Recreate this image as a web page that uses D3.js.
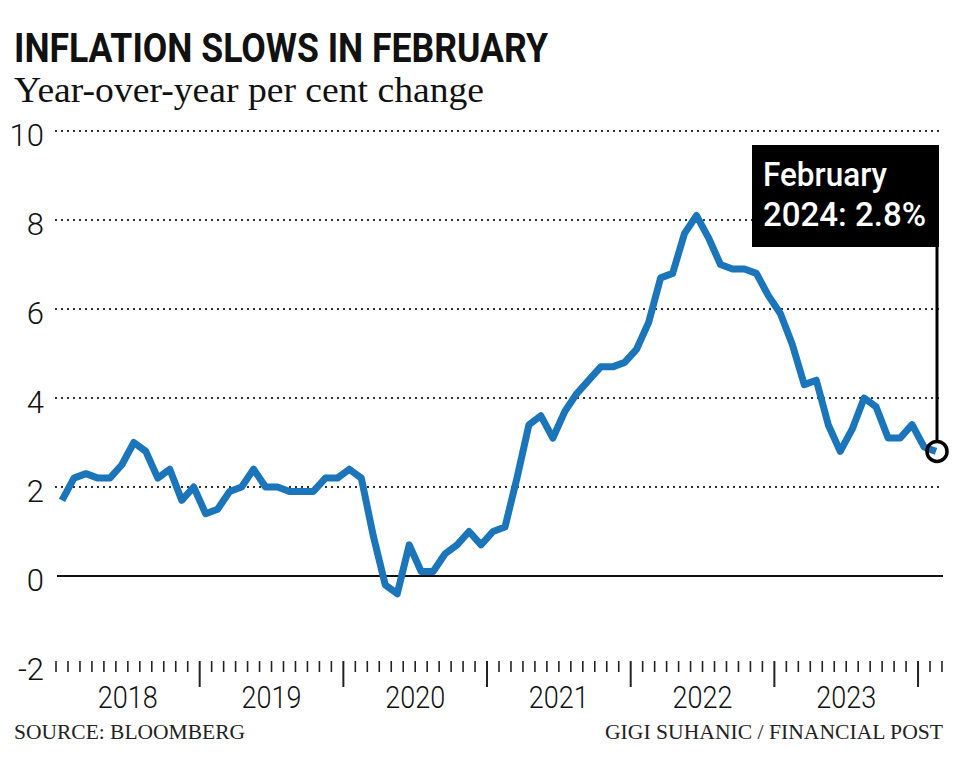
<!DOCTYPE html>
<html>
<head>
<meta charset="utf-8">
<script src="https://cdn.jsdelivr.net/npm/d3@7"></script>
<style>
  html, body { margin: 0; padding: 0; background: #fff; }
  svg { display: block; }
</style>
</head>
<body>
<svg id="chart" width="960" height="770"></svg>
<script>
// ---- Data (Canada CPI, year-over-year % change, monthly Jan 2018 – Feb 2024) ----
const startYear = 2018;
const values2018 = [1.7, 2.2, 2.3, 2.2, 2.2, 2.5, 3.0, 2.8, 2.2, 2.4, 1.7, 2.0];
const values2019 = [1.4, 1.5, 1.9, 2.0, 2.4, 2.0, 2.0, 1.9, 1.9, 1.9, 2.2, 2.2];
const values2020 = [2.4, 2.2, 0.9, -0.2, -0.4, 0.7, 0.1, 0.1, 0.5, 0.7, 1.0, 0.7];
const values2021 = [1.0, 1.1, 2.2, 3.4, 3.6, 3.1, 3.7, 4.1, 4.4, 4.7, 4.7, 4.8];
const values2022 = [5.1, 5.7, 6.7, 6.8, 7.7, 8.1, 7.6, 7.0, 6.9, 6.9, 6.8, 6.3];
const values2023 = [5.9, 5.2, 4.3, 4.4, 3.4, 2.8, 3.3, 4.0, 3.8, 3.1, 3.1, 3.4];
const values2024 = [2.9, 2.8];
const yearLabels = ["2018", "2019", "2020", "2021", "2022", "2023"];
const yTickValues = [-2, 0, 2, 4, 6, 8, 10];
const titleText = "INFLATION SLOWS IN FEBRUARY";
const subtitleText = "Year-over-year per cent change";
const annotationLines = ["February", "2024: 2.8%"];
const sourceText = "SOURCE: BLOOMBERG";
const creditText = "GIGI SUHANIC / FINANCIAL POST";

const series = [].concat(values2018, values2019, values2020, values2021, values2022, values2023, values2024)
  .map((v, i) => ({ i, v }));

// ---- Layout ----
const svg = d3.select("#chart");
const x = d3.scaleLinear().domain([0, series.length - 1]).range([62, 936]);
const y = d3.scaleLinear().domain([-2, 10]).range([665, 131]);
const gridLeft = 55, gridRight = 943;
const blue = "#1b75bb";

// Title & subtitle
svg.append("text").attr("x", 14).attr("y", 62)
  .attr("font-family", "Roboto, 'Liberation Sans', sans-serif")
  .attr("font-weight", 700).attr("font-size", 40).attr("fill", "#111")
  .attr("textLength", 534).attr("lengthAdjust", "spacingAndGlyphs")
  .text(titleText);
svg.append("text").attr("x", 14).attr("y", 102)
  .attr("font-family", "'Liberation Serif', 'DejaVu Serif', serif")
  .attr("font-size", 35).attr("fill", "#111")
  .attr("textLength", 470).attr("lengthAdjust", "spacingAndGlyphs")
  .text(subtitleText);

// Gridlines (dotted) for nonzero ticks
const gridG = svg.append("g");
gridG.selectAll("line.grid").data(yTickValues.filter(d => d > 0)).join("line")
  .attr("class", "grid")
  .attr("x1", gridLeft).attr("x2", gridRight)
  .attr("y1", d => y(d)).attr("y2", d => y(d))
  .attr("stroke", "#333").attr("stroke-width", 2)
  .attr("stroke-dasharray", "2,4");
// Zero line
gridG.append("line")
  .attr("x1", 57).attr("x2", gridRight)
  .attr("y1", y(0)).attr("y2", y(0))
  .attr("stroke", "#111").attr("stroke-width", 2);

// Y labels
svg.append("g").selectAll("text").data(yTickValues).join("text")
  .attr("x", 44).attr("y", d => y(d) + 15)
  .attr("text-anchor", "end")
  .attr("font-family", "Roboto, 'Open Sans', sans-serif")
  .attr("font-weight", 300).attr("font-size", 31).attr("fill", "#111")
  .text(d => d);

// X axis ticks: month boundaries
const boundaries = d3.range(0, series.length + 1).map(k => k - 0.5);
svg.append("g").selectAll("line").data(boundaries).join("line")
  .attr("x1", d => x(d)).attr("x2", d => x(d))
  .attr("y1", 661)
  .attr("y2", d => { const k = d + 0.5; return (k > 0 && k % 12 === 0) ? 687 : 672; })
  .attr("stroke", "#222")
  .attr("stroke-width", d => { const k = d + 0.5; return (k > 0 && k % 12 === 0) ? 2 : 1.6; });

// Year labels centred on each year
svg.append("g").selectAll("text").data(yearLabels).join("text")
  .attr("x", (d, i) => x(i * 12 + 5.5))
  .attr("y", 708)
  .attr("text-anchor", "middle")
  .attr("font-family", "Roboto, 'Open Sans', sans-serif")
  .attr("font-weight", 300).attr("font-size", 32).attr("fill", "#111")
  .attr("textLength", 60).attr("lengthAdjust", "spacingAndGlyphs")
  .text(d => d);

// Line
const line = d3.line().x(d => x(d.i)).y(d => y(d.v));
svg.append("path").datum(series)
  .attr("d", line)
  .attr("fill", "none").attr("stroke", blue)
  .attr("stroke-width", 7).attr("stroke-linejoin", "round").attr("stroke-linecap", "butt");

// Annotation
const last = series[series.length - 1];
const ax = x(last.i), ay = y(last.v);
svg.append("rect").attr("x", 752).attr("y", 145).attr("width", 187).attr("height", 102).attr("fill", "#000");
svg.append("line").attr("x1", ax + 1).attr("x2", ax + 1).attr("y1", 246).attr("y2", ay - 10)
  .attr("stroke", "#000").attr("stroke-width", 3);
svg.append("circle").attr("cx", ax + 1).attr("cy", ay).attr("r", 10)
  .attr("fill", "none").attr("stroke", "#000").attr("stroke-width", 3.5);
const annW = [124, 163];
svg.append("g").selectAll("text").data(annotationLines).join("text")
  .attr("x", 763).attr("y", (d, i) => 186 + i * 40)
  .attr("font-family", "Roboto, 'Liberation Sans', sans-serif")
  .attr("font-weight", 500).attr("font-size", 33).attr("fill", "#fff")
  .attr("textLength", (d, i) => annW[i]).attr("lengthAdjust", "spacingAndGlyphs")
  .text(d => d);

// Footer
svg.append("text").attr("x", 14).attr("y", 739)
  .attr("font-family", "'Liberation Serif', 'DejaVu Serif', serif")
  .attr("font-size", 20).attr("fill", "#222")
  .attr("textLength", 231).attr("lengthAdjust", "spacingAndGlyphs")
  .text(sourceText);
svg.append("text").attr("x", 943).attr("y", 739)
  .attr("text-anchor", "end")
  .attr("font-family", "'Liberation Serif', 'DejaVu Serif', serif")
  .attr("font-size", 20).attr("fill", "#222")
  .attr("textLength", 338).attr("lengthAdjust", "spacingAndGlyphs")
  .text(creditText);
</script>
</body>
</html>
